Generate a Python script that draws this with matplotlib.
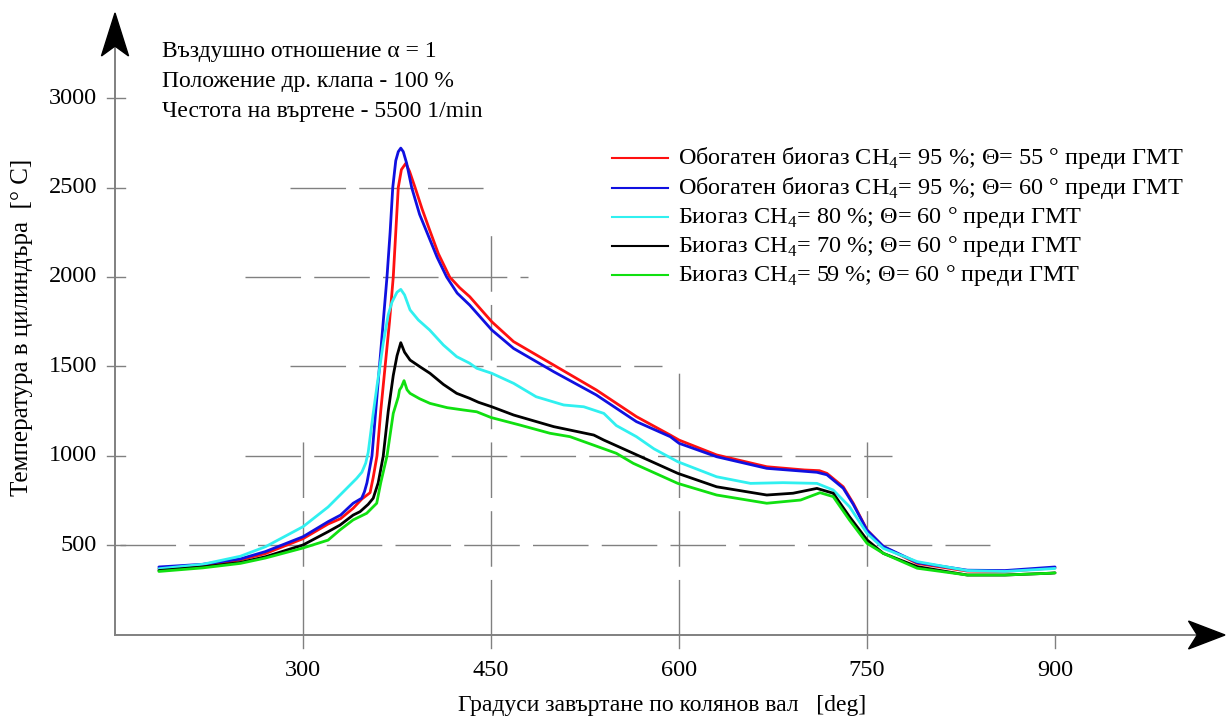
import matplotlib
matplotlib.use('Agg')
import matplotlib.pyplot as plt
from matplotlib.patches import Polygon

plt.rcParams['font.family'] = ['Liberation Serif', 'DejaVu Serif']
plt.rcParams['mathtext.fontset'] = 'custom'
plt.rcParams['mathtext.rm'] = 'Liberation Serif'

# crank angle [deg] / temperature [C]
red_x = [185, 220, 250, 270, 300, 320, 330, 340, 347, 353.5, 356, 359, 362, 365.5, 369, 372, 374,
         376, 378.5, 382, 385, 389.4, 395, 401, 408, 417, 425, 433, 450.6, 468, 500, 534, 566, 593,
         600, 630, 670, 700, 712, 718, 731, 739, 750, 763, 790, 830, 860, 896, 900]
red_y = [370, 385, 420, 455, 538, 620, 650, 708, 760, 795, 880, 1000, 1250, 1500, 1750, 2000, 2250,
         2500, 2600, 2635, 2590, 2500, 2380, 2263, 2130, 2000, 1940, 1890, 1750, 1639, 1508, 1369,
         1220, 1117, 1089, 1006, 940, 922, 918, 903, 828, 736, 587, 493, 400, 357, 355, 373, 375]

blue_x = [185, 220, 250, 270, 300, 320, 330, 340, 346.8, 349, 351, 355, 358, 361, 364, 367, 369.5,
          371.6, 374, 376, 378, 380, 382.7, 386.7, 393, 400, 407, 414.6, 423, 433, 450.6, 468, 500,
          534, 566, 593, 600, 630, 670, 710, 718, 731, 739, 750, 763, 790, 830, 860, 896, 900]
blue_y = [380, 395, 425, 466, 549, 633, 670, 736, 764, 800, 850, 1000, 1250, 1500, 1750, 2000, 2250,
          2500, 2650, 2700, 2720, 2700, 2635, 2500, 2350, 2230, 2110, 2000, 1910, 1843, 1704, 1601,
          1471, 1341, 1192, 1108, 1071, 996, 931, 909, 895, 820, 730, 585, 495, 405, 362, 360, 378, 380]

cyan_x = [185, 220, 250, 270, 300, 320, 330, 342.8, 347, 350, 352, 356, 359, 364, 368, 371, 375, 378,
          381, 385.4, 392, 401, 412, 422.6, 433, 438.6, 450.6, 468, 486, 508, 524, 540, 550, 566, 580,
          599, 630, 657, 683, 710, 723, 736, 750, 763, 790, 830, 860, 896, 900]
cyan_y = [370, 395, 440, 493, 605, 715, 785, 875, 910, 960, 1020, 1238, 1390, 1630, 1790, 1860, 1915,
          1931, 1900, 1816, 1760, 1704, 1620, 1555, 1518, 1490, 1462, 1406, 1331, 1285, 1275, 1238,
          1170, 1108, 1040, 968, 884, 847, 851, 847, 810, 717, 568, 484, 410, 360, 355, 370, 372]

black_x = [185, 220, 250, 270, 300, 320, 329.5, 340, 345.5, 352, 356, 360, 364, 368, 372, 375, 378,
           381, 385.4, 393, 401.3, 412, 422.6, 433, 440, 450.6, 468, 500, 532, 540, 563.5, 599, 630,
           670, 691, 710, 723, 736, 750, 763, 790, 830, 860, 896, 900]
black_y = [360, 380, 405, 437, 503, 577, 614, 670, 689, 730, 764, 850, 1000, 1250, 1450, 1560, 1633,
           1580, 1536, 1500, 1462, 1400, 1350, 1322, 1300, 1275, 1229, 1164, 1117, 1089, 1015, 903,
           828, 782, 792, 819, 792, 661, 531, 456, 382, 335, 335, 345, 347]

green_x = [185, 220, 250, 270, 300, 320, 329.5, 340, 350.8, 358.8, 362, 367, 372, 376, 377, 378.5,
           380.6, 383, 385.4, 393, 401.3, 415, 428, 438.6, 450, 473, 497, 513, 550, 563.5, 599, 630,
           670, 697, 712.5, 723, 736, 750, 763, 790, 830, 860, 896, 900]
green_y = [355, 375, 400, 430, 486, 530, 587, 643, 680, 736, 850, 1000, 1238, 1330, 1369, 1385, 1421,
           1370, 1350, 1320, 1294, 1270, 1257, 1247, 1215, 1173, 1127, 1108, 1015, 959, 847, 782,
           736, 754, 795, 773, 642, 512, 456, 373, 335, 335, 345, 347]

series = [
    (red_x, red_y, '#ff1010', 'Обогатен биогаз CH$_\\mathrm{4}$= 95 %; Θ= 55 ° преди ГМТ'),
    (blue_x, blue_y, '#1010e0', 'Обогатен биогаз CH$_\\mathrm{4}$= 95 %; Θ= 60 ° преди ГМТ'),
    (cyan_x, cyan_y, '#30f0f0', 'Биогаз CH$_\\mathrm{4}$= 80 %; Θ= 60 ° преди ГМТ'),
    (black_x, black_y, '#000000', 'Биогаз CH$_\\mathrm{4}$= 70 %; Θ= 60 ° преди ГМТ'),
    (green_x, green_y, '#10e010', 'Биогаз CH$_\\mathrm{4}$= 59 %; Θ= 60 ° преди ГМТ'),
]

x_ticks = [300, 450, 600, 750, 900]
y_ticks = [500, 1000, 1500, 2000, 2500, 3000]

# partial dashed grid: (value, start, end)
h_grid = [(2500, 289.6, 445), (2000, 253.7, 479.5), (1500, 289.6, 586.4),
          (1000, 253.7, 770), (500, 154, 848)]
v_grid = [(300, 1089), (450, 2251), (600, 1480), (750, 1117)]

info_lines = ['Въздушно отношение α = 1',
              'Положение др. клапа - 100 %',
              'Честота на въртене - 5500 1/min']

GRAY = '#808080'


def main():
    fig = plt.figure(figsize=(12.27, 7.2), dpi=100)
    ax = fig.add_axes([0, 0, 1, 1])
    ax.set_xlim(58.24, 1037.2)
    ax.set_ylim(-474.9, 3547.5)
    ax.axis('off')

    dash = (0, (40, 9.5))
    for val, x0, x1 in h_grid:
        ax.plot([x0, x1], [val, val], color=GRAY, lw=1.0, linestyle=dash)
    for val, top in v_grid:
        ax.plot([val, val], [0, top], color=GRAY, lw=1.0, linestyle=dash)

    # axes lines and ticks
    ax.plot([150, 1020], [0, 0], color=GRAY, lw=1.4)
    ax.plot([150, 150], [0, 3400], color=GRAY, lw=1.4)
    for t in x_ticks:
        ax.plot([t, t], [0, -73], color=GRAY, lw=1.0)
        ax.text(t, -196, str(t), ha='center', va='center', fontsize=17.5)
    for t in y_ticks:
        ax.plot([143.6, 158], [t, t], color=GRAY, lw=1.0)
        ax.text(135.6, t, str(t), ha='right', va='center', fontsize=17.5)

    ax.add_patch(Polygon([(150, 3475), (139.2, 3235), (150, 3290), (160.8, 3235)],
                         closed=True, color='black', zorder=5))
    ax.add_patch(Polygon([(1035.6, 0), (1006.5, 78), (1013.5, 0), (1006.5, -78)],
                         closed=True, color='black', zorder=5))

    for xs, ys, c, lab in series:
        ax.plot(xs, ys, color=c, lw=2.0, solid_joinstyle='round', solid_capstyle='round')

    # legend
    leg_y = [2665, 2497, 2335, 2173, 2011]
    for (xs, ys, c, lab), ly in zip(series, leg_y):
        ax.plot([546.5, 591.2], [ly, ly], color=c, lw=1.5)
        ax.text(599, ly, lab, ha='left', va='center', fontsize=17.5)

    for i, line in enumerate(info_lines):
        ax.text(187.5, 3257 - i * 165, line, ha='left', va='center', fontsize=17)

    ax.text(586.4, -392, 'Градуси завъртане по колянов вал   [deg]',
            ha='center', va='center', fontsize=17)
    ax.text(75.8, 1718, 'Температура в цилиндъра  [° C]', rotation=90,
            ha='center', va='center', fontsize=18)

    fig.savefig('out.png', dpi=100)


if __name__ == "__main__":
    main()
